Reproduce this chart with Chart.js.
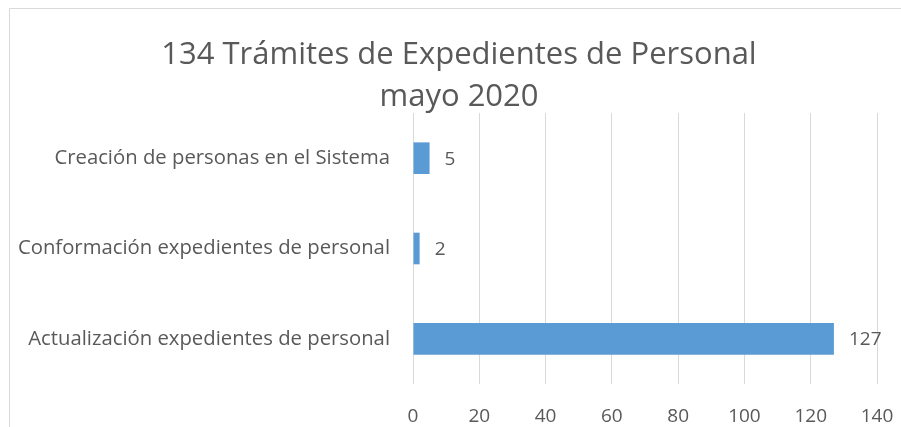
<!DOCTYPE html>
<html lang="es">
<head>
<meta charset="utf-8">
<title>Trámites de Expedientes de Personal</title>
<script src="https://cdn.jsdelivr.net/npm/chart.js@4/dist/chart.umd.min.js"></script>
<style>
    html, body { margin: 0; padding: 0; background: #fff; }
    #caja { position: relative; width: 901px; height: 427px; }
</style>
</head>
<body>
<div id="caja"><canvas id="grafico" width="901" height="427"></canvas></div>
<script>
// datos del grafico
const categorias = [
    'Creación de personas en el Sistema',
    'Conformación expedientes de personal',
    'Actualización expedientes de personal'
];
const tramites = [5, 2, 127];
const titulo = ['134 Trámites de Expedientes de Personal', 'mayo 2020'];
const marcasEjeX = [0, 20, 40, 60, 80, 100, 120, 140];

const colorTexto = '#595959';
const colorGrilla = '#d9d9d9';
const fuente = '"Open Sans", Lato, sans-serif';

// dibuja el borde gris del area del grafico (arriba e izquierda)
const bordeGrafico = {
    id: 'bordeGrafico',
    // corre el bloque del titulo para centrarlo como en el original
    afterLayout(chart) {
        if (chart.titleBlock) chart.titleBlock.left = 41;
    },
    beforeDraw(chart) {
        const c = chart.ctx;
        c.save();
        c.strokeStyle = colorGrilla;
        c.lineWidth = 1;
        c.beginPath();
        c.moveTo(9.5, chart.height);
        c.lineTo(9.5, 8.5);
        c.lineTo(chart.width, 8.5);
        c.stroke();
        c.restore();
    }
};

// escribe el valor al final de cada barra
const etiquetasValor = {
    id: 'etiquetasValor',
    afterDatasetsDraw(chart) {
        const c = chart.ctx;
        const meta = chart.getDatasetMeta(0);
        c.save();
        c.fillStyle = colorTexto;
        c.font = '19px ' + fuente;
        c.textAlign = 'left';
        c.textBaseline = 'middle';
        meta.data.forEach((barra, i) => {
            c.fillText(String(tramites[i]), barra.x + 15, barra.y + 1);
        });
        c.restore();
    }
};

new Chart(document.getElementById('grafico'), {
    type: 'bar',
    data: {
        labels: categorias,
        datasets: [{
            data: tramites,
            backgroundColor: '#5b9bd5',
            borderWidth: 0,
            barPercentage: 0.35,
            categoryPercentage: 1
        }]
    },
    options: {
        indexAxis: 'y',
        responsive: false,
        animation: false,
        events: [],
        layout: { padding: { top: 0, right: 24, bottom: 0, left: 0 } },
        plugins: {
            legend: { display: false },
            tooltip: { enabled: false },
            title: {
                display: true,
                text: titulo,
                color: colorTexto,
                font: { family: fuente, size: 31, weight: 'normal', lineHeight: 1.355 },
                padding: { top: 34, bottom: -5 }
            }
        },
        scales: {
            x: {
                min: 0,
                max: 140,
                afterBuildTicks(scale) {
                    scale.ticks = marcasEjeX.map(v => ({ value: v }));
                },
                afterFit(scale) {
                    scale.height = 43;
                    scale.paddingLeft = 0;
                    scale.paddingRight = 0;
                },
                grid: { color: colorGrilla, lineWidth: 1, drawTicks: false },
                border: { display: false },
                ticks: {
                    color: colorTexto,
                    font: { family: fuente, size: 19 },
                    padding: 21,
                    maxRotation: 0
                }
            },
            y: {
                afterFit(scale) { scale.width = 413; },
                grid: { display: false, drawTicks: false },
                border: { display: false },
                ticks: {
                    color: colorTexto,
                    font: { family: fuente, size: 20.3 },
                    padding: 23
                }
            }
        }
    },
    plugins: [bordeGrafico, etiquetasValor]
});
</script>
</body>
</html>
